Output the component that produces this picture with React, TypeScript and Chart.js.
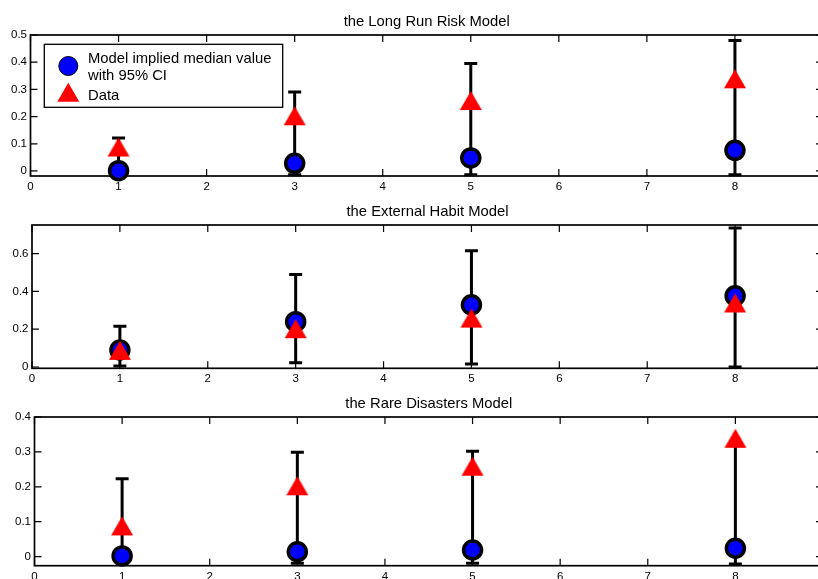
import { useEffect, useRef } from 'react';
import { Chart, registerables } from 'chart.js';

Chart.register(...registerables);

// Forecast horizons (years) and the observed values shared by every panel
const horizons = [1, 3, 5, 8];
const observedValues = [0.088, 0.203, 0.259, 0.339];

// Long run risk model: median and 95% interval
const longRunMedian = [0.001, 0.028, 0.048, 0.076];
const longRunLower = [0.0, -0.014, -0.014, -0.014];
const longRunUpper = [0.121, 0.29, 0.395, 0.48];

// External habit model
const habitMedian = [0.09, 0.24, 0.329, 0.377];
const habitLower = [0.005, 0.023, 0.016, 0.0];
const habitUpper = [0.216, 0.49, 0.615, 0.736];

// Rare disasters model
const disasterMedian = [0.002, 0.014, 0.019, 0.024];
const disasterLower = [0.0, -0.019, -0.019, -0.021];
const disasterUpper = [0.223, 0.299, 0.302, 0.322];

// Tick labels
const xTickValues = [0, 1, 2, 3, 4, 5, 6, 7, 8];
const longRunTicks = [0, 0.1, 0.2, 0.3, 0.4, 0.5];
const habitTicks = [0, 0.2, 0.4, 0.6];
const disasterTicks = [0, 0.1, 0.2, 0.3, 0.4];

const panelTitles = ['the Long Run Risk Model', 'the External Habit Model', 'the Rare Disasters Model'];
const legendLabels = ['Model implied median value', 'with 95% CI', 'Data'];

const FONT = '"Liberation Sans", Arial, Helvetica, sans-serif';
const CANVAS_W = 840;
const CANVAS_H = 579;
const PLOT_RIGHT = 823;
const XAXIS_H = 22;

type PanelSpec = {
  title: string;
  median: number[];
  lower: number[];
  upper: number[];
  yMin: number;
  yMax: number;
  yTicks: number[];
  left: number;
  top: number;
  bottom: number;
  legend: boolean;
};

const panels: PanelSpec[] = [
  { title: panelTitles[0], median: longRunMedian, lower: longRunLower, upper: longRunUpper, yMin: -0.0185, yMax: 0.5, yTicks: longRunTicks, left: 30.5, top: 35, bottom: 176, legend: true },
  { title: panelTitles[1], median: habitMedian, lower: habitLower, upper: habitUpper, yMin: -0.007, yMax: 0.752, yTicks: habitTicks, left: 32, top: 225, bottom: 368.3, legend: false },
  { title: panelTitles[2], median: disasterMedian, lower: disasterLower, upper: disasterUpper, yMin: -0.026, yMax: 0.4, yTicks: disasterTicks, left: 34.5, top: 417, bottom: 565.7, legend: false },
];

function makeTriangle(): HTMLCanvasElement {
  const c = document.createElement('canvas');
  c.width = 24;
  c.height = 21;
  const ctx = c.getContext('2d')!;
  ctx.fillStyle = '#ff0000';
  ctx.beginPath();
  ctx.moveTo(12, 1);
  ctx.lineTo(23, 20);
  ctx.lineTo(1, 20);
  ctx.closePath();
  ctx.fill();
  return c;
}

function Panel({ spec }: { spec: PanelSpec }) {
  const ref = useRef<HTMLCanvasElement | null>(null);

  useEffect(() => {
    const canvas = ref.current;
    if (!canvas) return;
    const triangle = makeTriangle();

    const decorations = {
      id: 'panelDecorations',
      beforeDatasetsDraw(chart: any) {
        const ctx = chart.ctx as CanvasRenderingContext2D;
        const { left, right, top, bottom } = chart.chartArea;
        const xs = chart.scales.x;
        const ys = chart.scales.y;
        ctx.save();
        // inward tick marks on all four sides
        ctx.strokeStyle = '#000';
        ctx.lineWidth = 1.2;
        ctx.beginPath();
        [...xTickValues, 9].forEach((v) => {
          const px = xs.getPixelForValue(v);
          ctx.moveTo(px, bottom);
          ctx.lineTo(px, bottom - 7);
          ctx.moveTo(px, top);
          ctx.lineTo(px, top + 7);
        });
        spec.yTicks.forEach((v) => {
          const py = ys.getPixelForValue(v);
          ctx.moveTo(left, py);
          ctx.lineTo(left + 7, py);
          ctx.moveTo(right, py);
          ctx.lineTo(right - 7, py);
        });
        ctx.stroke();
        // axes box
        ctx.lineWidth = 1.7;
        ctx.strokeRect(left, top, right - left, bottom - top);
        // 95% interval bars
        ctx.lineWidth = 3;
        ctx.beginPath();
        horizons.forEach((h, i) => {
          const px = xs.getPixelForValue(h);
          const lo = ys.getPixelForValue(spec.lower[i]);
          const hi = ys.getPixelForValue(spec.upper[i]);
          ctx.moveTo(px, lo);
          ctx.lineTo(px, hi);
          ctx.moveTo(px - 6.5, hi);
          ctx.lineTo(px + 6.5, hi);
          ctx.moveTo(px - 6.5, lo);
          ctx.lineTo(px + 6.5, lo);
        });
        ctx.stroke();
        // panel title
        ctx.fillStyle = '#000';
        ctx.font = `14.8px ${FONT}`;
        ctx.textAlign = 'center';
        ctx.textBaseline = 'alphabetic';
        ctx.fillText(spec.title, (left + right) / 2, top - 9);
        ctx.restore();
      },
      afterDatasetsDraw(chart: any) {
        if (!spec.legend) return;
        const ctx = chart.ctx as CanvasRenderingContext2D;
        ctx.save();
        ctx.fillStyle = '#fff';
        ctx.fillRect(44.3, 44.3, 238.4, 63);
        ctx.strokeStyle = '#000';
        ctx.lineWidth = 1.3;
        ctx.strokeRect(44.3, 44.3, 238.4, 63);
        // circle marker
        ctx.beginPath();
        ctx.arc(68.3, 66, 9.5, 0, Math.PI * 2);
        ctx.fillStyle = '#0000ff';
        ctx.fill();
        ctx.lineWidth = 1;
        ctx.stroke();
        // triangle marker
        ctx.beginPath();
        ctx.moveTo(68.3, 82.7);
        ctx.lineTo(79.3, 101.7);
        ctx.lineTo(57.3, 101.7);
        ctx.closePath();
        ctx.fillStyle = '#ff0000';
        ctx.fill();
        // labels
        ctx.fillStyle = '#000';
        ctx.font = `14.8px ${FONT}`;
        ctx.textAlign = 'left';
        ctx.textBaseline = 'alphabetic';
        ctx.fillText(legendLabels[0], 88, 63.3);
        ctx.fillText(legendLabels[1], 88, 80);
        ctx.fillText(legendLabels[2], 88, 100);
        ctx.restore();
      },
    };

    const tickFont = { family: FONT, size: 11.5 };

    const chart = new Chart(canvas, {
      type: 'scatter',
      data: {
        datasets: [
          {
            label: legendLabels[0],
            data: horizons.map((h, i) => ({ x: h, y: spec.median[i] })),
            pointStyle: 'circle',
            pointRadius: 9,
            pointHoverRadius: 9,
            pointBorderWidth: 3.5,
            pointHoverBorderWidth: 3.5,
            pointBackgroundColor: '#0000ff',
            pointBorderColor: '#000000',
            showLine: false,
            clip: false,
            order: 2,
          },
          {
            label: legendLabels[2],
            data: horizons.map((h, i) => ({ x: h, y: observedValues[i] })),
            pointStyle: triangle,
            pointRadius: 11,
            showLine: false,
            clip: false,
            order: 1,
          },
        ],
      },
      options: {
        animation: false,
        responsive: false,
        events: [],
        layout: {
          padding: {
            top: spec.top,
            bottom: CANVAS_H - spec.bottom - XAXIS_H,
            left: 0,
            right: CANVAS_W - PLOT_RIGHT,
          },
        },
        plugins: {
          legend: { display: false },
          tooltip: { enabled: false },
          title: { display: false },
        },
        scales: {
          x: {
            type: 'linear',
            min: 0,
            max: 9,
            grid: { display: false, drawTicks: false },
            border: { display: false },
            afterBuildTicks: (s: any) => {
              s.ticks = xTickValues.map((v) => ({ value: v }));
            },
            afterFit: (s: any) => {
              s.height = XAXIS_H;
            },
            ticks: {
              font: tickFont,
              color: '#000',
              padding: 4,
              autoSkip: false,
              maxRotation: 0,
              callback: (v: any) => String(v),
            },
          },
          y: {
            type: 'linear',
            min: spec.yMin,
            max: spec.yMax,
            grid: { display: false, drawTicks: false },
            border: { display: false },
            afterBuildTicks: (s: any) => {
              s.ticks = spec.yTicks.map((v) => ({ value: v }));
            },
            afterFit: (s: any) => {
              s.width = spec.left;
            },
            ticks: {
              font: tickFont,
              color: '#000',
              padding: 3.5,
              autoSkip: false,
              callback: (v: any) => String(v),
            },
          },
        },
      },
      plugins: [decorations],
    } as any);

    return () => chart.destroy();
  }, [spec]);

  return (
    <canvas
      ref={ref}
      width={CANVAS_W}
      height={CANVAS_H}
      style={{ position: 'absolute', left: 0, top: 0, width: CANVAS_W, height: CANVAS_H }}
    />
  );
}

export default function App() {
  return (
    <div
      style={{
        position: 'fixed',
        left: 0,
        top: 0,
        width: 818,
        height: 579,
        overflow: 'hidden',
        background: '#fff',
      }}
    >
      {panels.map((p) => (
        <Panel key={p.title} spec={p} />
      ))}
    </div>
  );
}
